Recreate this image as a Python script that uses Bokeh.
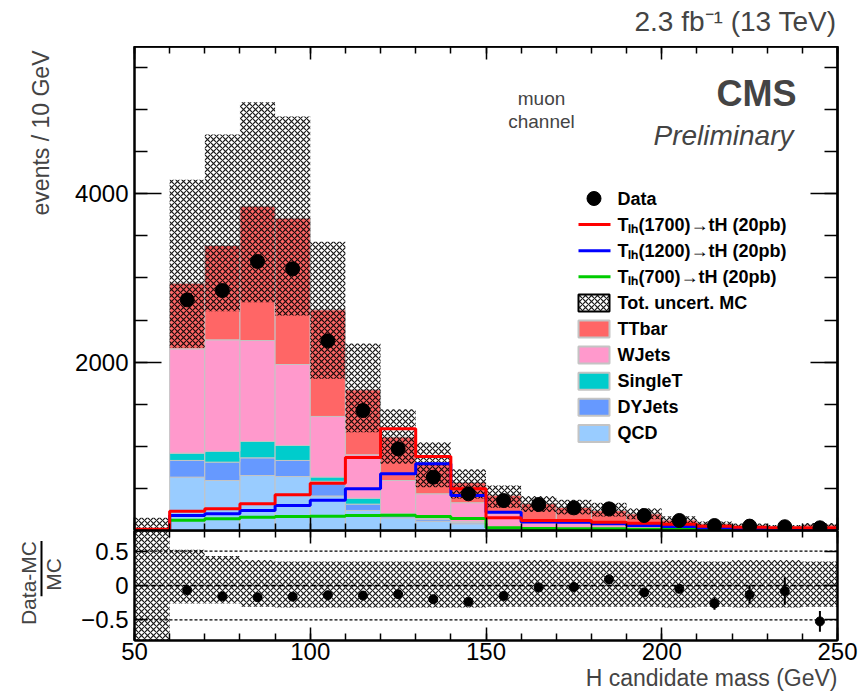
import numpy as np
from math import pi
from bokeh.plotting import figure
from bokeh.layouts import column, row
from bokeh.models import Range1d, LinearAxis, FixedTicker, Label, Span, Title
from bokeh.embed import file_html
from bokeh.resources import INLINE

# ---------------- data ----------------
bin_edges = [50, 60, 70, 80, 90, 100, 110, 120, 130, 140, 150,
             160, 170, 180, 190, 200, 210, 220, 230, 240, 250]

qcd     = [3, 634, 594, 653, 641, 410, 238, 150, 110, 80, 25, 15, 10, 8, 6, 4, 3, 2, 1, 1]
dyjets  = [1, 198, 218, 210, 191, 175, 75, 30, 20, 15, 8, 5, 4, 3, 3, 2, 1, 1, 1, 1]
singlet = [0.5, 87, 130, 194, 178, 50, 70, 20, 15, 10, 7, 6, 5, 4, 3, 2, 1, 1, 1, 1]
wjets   = [4, 1239, 1323, 1200, 962, 720, 517, 394, 291, 225, 160, 90, 75, 60, 45, 30, 20, 15, 12, 12]
ttbar   = [2, 780, 1121, 1596, 1739, 1267, 771, 516, 355, 240, 220, 202, 181, 161, 141, 87, 55, 41, 34, 52]

band_hi = [150, 4166, 4704, 5089, 4918, 3430, 2221, 1440, 1049, 727, 535, 410, 364, 330, 265, 170, 108, 82, 66, 90]
band_lo = [0, 2170, 2606, 2713, 2554, 1802, 1168, 792, 515, 380, 270, 220, 190, 165, 135, 85, 55, 41, 34, 46]

data = [np.nan, 2740, 2851, 3196, 3109, 2253, 1426, 970, 633, 436, 356, 309, 269, 257, 178, 119, 59, 52, 45, 32]

sig1700 = [15, 230, 257, 317, 424, 562, 867, 1208, 879, 495, 150, 119, 120, 99, 87, 75, 50, 38, 32, 30]
sig1200 = [10, 178, 198, 238, 297, 360, 495, 673, 792, 416, 218, 100, 99, 79, 59, 48, 32, 25, 20, 18]
sig700  = [5, 122, 139, 158, 166, 170, 178, 182, 165, 142, 32, 25, 22, 20, 16, 12, 8, 8, 6, 6]

ratio_err     = [0, 0.02, 0.02, 0.02, 0.02, 0.02, 0.025, 0.03, 0.035, 0.04, 0.045, 0.04, 0.04, 0.07, 0.05, 0.06, 0.09, 0.14, 0.2, 0.15]
ratio_band_up = [5, 0.52, 0.43, 0.37, 0.35, 0.35, 0.35, 0.35, 0.35, 0.35, 0.35, 0.37, 0.35, 0.35, 0.35, 0.37, 0.35, 0.37, 0.37, 0.35]
ratio_band_dn = [-1, -0.26, -0.26, -0.31, -0.32, -0.32, -0.32, -0.32, -0.32, -0.32, -0.31, -0.31, -0.31, -0.31, -0.31, -0.32, -0.31, -0.32, -0.32, -0.31]

x_major = [50, 100, 150, 200, 250]
x_minor = list(range(50, 251, 10))
y_major = [2000, 4000]
y_minor = list(range(0, 5751, 500))
r_major = [-0.5, 0, 0.5]

# ---------------- styling / geometry ----------------
FONT = "Liberation Sans"
C_TT, C_W, C_ST, C_DY, C_QCD = "#ff6666", "#ff99cc", "#00cccc", "#6699ff", "#99ccff"
C_1700, C_1200, C_700 = "#ff0000", "#0000ff", "#00cc00"
EDGE = "#c4c4c4"

W, H = 863, 697
LABW = 66                      # width of the strip holding the rotated y titles
FL, FR, MT, MB, RB = 134, 837, 46, 530, 640
X0, X1, YMAX, R0, R1 = 50, 250, 5750, -0.8, 0.8


def mx(px):
    return X0 + (px - FL) * (X1 - X0) / (FR - FL)


def my(py):
    return (MB - py) * YMAX / (MB - MT)


edges = np.array(bin_edges, dtype=float)
left, right = edges[:-1], edges[1:]
centers = 0.5 * (left + right)

comps = [(qcd, C_QCD), (dyjets, C_DY), (singlet, C_ST), (wjets, C_W), (ttbar, C_TT)]
mc_total = np.sum([np.array(c, dtype=float) for c, _ in comps], axis=0)
ratio = np.array(data, dtype=float) / mc_total - 1.0


def style_axis(ax, maj, mnr, labels=True):
    ax.major_tick_in = maj
    ax.major_tick_out = 0
    ax.minor_tick_in = mnr
    ax.minor_tick_out = 0
    ax.axis_line_width = 2
    ax.axis_line_color = "black"
    ax.major_tick_line_width = 1.5
    ax.minor_tick_line_width = 1.5
    ax.major_label_text_font = FONT
    ax.major_label_text_color = "black"
    ax.major_label_text_font_size = "24px"
    if not labels:
        ax.major_label_standoff = 0


def tick_only_axis(fig, place, positions, length, existing=None):
    """An axis that draws only (unlabelled) tick marks, all of one length."""
    t = FixedTicker(ticks=[], minor_ticks=list(positions))
    ax = existing if existing is not None else LinearAxis()
    ax.ticker = t
    style_axis(ax, 0, length, labels=False)
    if existing is None:
        fig.add_layout(ax, place)
    return ax


def label_strip(width, height):
    f = figure(width=width, height=height, x_range=Range1d(0, width), y_range=Range1d(height, 0),
               output_backend="svg", toolbar_location=None, min_border=0,
               x_axis_location=None, y_axis_location=None, outline_line_color=None)
    f.grid.visible = False
    return f


# ---------------- strip above the plot (luminosity text) ----------------
top_strip = label_strip(W, MT)
top_strip.add_layout(Label(x=836, y=21, text="2.3 fb\u207b\u00b9 (13 TeV)", text_align="right",
                           text_baseline="middle", text_font=FONT, text_font_size="28px"))

# ---------------- main panel ----------------
p = figure(frame_width=FR - FL, frame_height=MB - MT,
           x_range=Range1d(X0, X1), y_range=Range1d(0, YMAX),
           output_backend="svg", toolbar_location=None,
           min_border_left=FL - LABW, min_border_right=W - FR,
           min_border_top=0, min_border_bottom=0,
           outline_line_color="black", outline_line_width=2)
p.grid.visible = False

tick_only_axis(p, "below", x_minor, 7, existing=p.xaxis[0])
tick_only_axis(p, "below", x_major, 13)
tick_only_axis(p, "above", x_minor, 7)
tick_only_axis(p, "above", x_major, 13)
p.yaxis[0].ticker = FixedTicker(ticks=y_major, minor_ticks=y_minor)
style_axis(p.yaxis[0], 27, 13)
p.yaxis[0].major_label_standoff = 6
tick_only_axis(p, "right", y_minor, 13)
tick_only_axis(p, "right", y_major, 27)

bottom = np.zeros(len(left))
for vals, col in comps:
    top = bottom + np.array(vals, dtype=float)
    p.quad(left=left, right=right, bottom=bottom, top=top,
           fill_color=col, line_color=EDGE, line_width=1)
    bottom = top

hatch_kw = dict(fill_alpha=0, line_alpha=0, hatch_pattern="diagonal_cross",
                hatch_color="black", hatch_scale=6, hatch_weight=1.2, hatch_alpha=0.9)
p.quad(left=left, right=right, bottom=band_lo, top=band_hi, **hatch_kw)

for sig, col in [(sig700, C_700), (sig1200, C_1200), (sig1700, C_1700)]:
    p.step(x=edges, y=list(sig) + [sig[-1]], mode="after", line_color=col, line_width=3)

p.scatter(x=centers, y=data, size=14, color="black")

# legend (drawn by hand)
LX0, LX1, LTX, ROW0, DROW = 578, 609, 617, 198, 26.1
leg = [("dot", "Data", "black"),
       ("line", "T\u2097\u2095(1700)\u2192tH (20pb)", C_1700),
       ("line", "T\u2097\u2095(1200)\u2192tH (20pb)", C_1200),
       ("line", "T\u2097\u2095(700)\u2192tH (20pb)", C_700),
       ("hatch", "Tot. uncert. MC", None),
       ("box", "TTbar", C_TT), ("box", "WJets", C_W), ("box", "SingleT", C_ST),
       ("box", "DYJets", C_DY), ("box", "QCD", C_QCD)]
for i, (kind, txt, col) in enumerate(leg):
    yc = ROW0 + i * DROW
    if kind == "dot":
        p.scatter(x=[mx((LX0 + LX1) / 2)], y=[my(yc)], size=14, color="black")
    elif kind == "line":
        p.segment(x0=[mx(LX0)], y0=[my(yc)], x1=[mx(LX1 + 1)], y1=[my(yc)],
                  line_color=col, line_width=3)
    elif kind == "hatch":
        p.quad(left=[mx(LX0)], right=[mx(LX1)], bottom=[my(yc + 8.5)], top=[my(yc - 8.5)],
               fill_color="white", line_color="black", line_width=2,
               hatch_pattern="diagonal_cross", hatch_color="black", hatch_scale=6,
               hatch_weight=1.2, hatch_alpha=0.9)
    else:
        p.quad(left=[mx(LX0)], right=[mx(LX1)], bottom=[my(yc + 8.5)], top=[my(yc - 8.5)],
               fill_color=col, line_color=EDGE, line_width=2)
    p.add_layout(Label(x=mx(LTX), y=my(yc), text=txt, text_align="left",
                       text_baseline="middle", text_font=FONT, text_font_size="18px",
                       text_font_style="bold", text_color="black"))

p.add_layout(Label(x=mx(796), y=my(93), text="CMS", text_align="right", text_baseline="middle",
                   text_font=FONT, text_font_size="36px", text_font_style="bold"))
p.add_layout(Label(x=mx(793), y=my(135), text="Preliminary", text_align="right",
                   text_baseline="middle", text_font=FONT, text_font_size="28px",
                   text_font_style="italic"))
p.add_layout(Label(x=mx(541), y=my(98), text="muon", text_align="center",
                   text_baseline="middle", text_font=FONT, text_font_size="19px"))
p.add_layout(Label(x=mx(541), y=my(121), text="channel", text_align="center",
                   text_baseline="middle", text_font=FONT, text_font_size="19px"))

lab_m = label_strip(LABW, MB - MT)
lab_m.add_layout(Label(x=40, y=4, text="events / 10 GeV", angle=pi / 2,
                       text_align="right", text_baseline="middle", text_font=FONT,
                       text_font_size="23px"))

# ---------------- ratio panel ----------------
r = figure(frame_width=FR - FL, frame_height=RB - MB,
           x_range=p.x_range, y_range=Range1d(R0, R1),
           output_backend="svg", toolbar_location=None,
           min_border_left=FL - LABW, min_border_right=W - FR,
           min_border_top=0, min_border_bottom=H - RB,
           outline_line_color="black", outline_line_width=2)
r.grid.visible = False
r.xaxis[0].ticker = FixedTicker(ticks=x_major, minor_ticks=x_minor)
style_axis(r.xaxis[0], 13, 7)
r.xaxis[0].major_label_standoff = 2
r.yaxis[0].ticker = FixedTicker(ticks=r_major, minor_ticks=[])
style_axis(r.yaxis[0], 13, 0)
r.yaxis[0].major_label_standoff = 6
r.yaxis[0].major_label_overrides = {-0.5: "\u22120.5", 0: "0", 0.5: "0.5"}
tick_only_axis(r, "above", x_minor, 7)
tick_only_axis(r, "above", x_major, 13)
tick_only_axis(r, "right", r_major, 13)

r.add_layout(Title(text="H candidate mass (GeV)", align="right", text_font=FONT,
                   text_font_size="23px", text_font_style="normal", standoff=0), "below")

r.quad(left=left, right=right, bottom=ratio_band_dn, top=ratio_band_up, **hatch_kw)
r.add_layout(Span(location=0.5, dimension="width", line_color="black", line_width=1.2, line_dash="3 2"))
r.add_layout(Span(location=-0.5, dimension="width", line_color="black", line_width=1.2, line_dash="3 2"))
r.add_layout(Span(location=0, dimension="width", line_color="black", line_width=1.5, line_dash="6 2"))

err = np.array(ratio_err)
r.segment(x0=centers, y0=ratio - err, x1=centers, y1=ratio + err, line_color="black", line_width=2)
r.scatter(x=centers, y=ratio, size=9, color="black")

# fraction title "Data-MC / MC" (rotated), centred on the ratio frame
lab_r = label_strip(LABW, H - MB)
lab_r.add_layout(Label(x=28, y=16, text="Data-MC", angle=pi / 2, text_align="right",
                       text_baseline="middle", text_font=FONT, text_font_size="21px"))
lab_r.segment(x0=[41], y0=[58 - 42], x1=[41], y1=[58 + 42], line_color="black", line_width=2)
lab_r.add_layout(Label(x=53, y=42, text="MC", angle=pi / 2, text_align="right",
                       text_baseline="middle", text_font=FONT, text_font_size="21px"))

layout = column(top_strip,
                row(lab_m, p, spacing=0),
                row(lab_r, r, spacing=0), spacing=0)
open("out.html", "w").write(file_html(layout, INLINE))
